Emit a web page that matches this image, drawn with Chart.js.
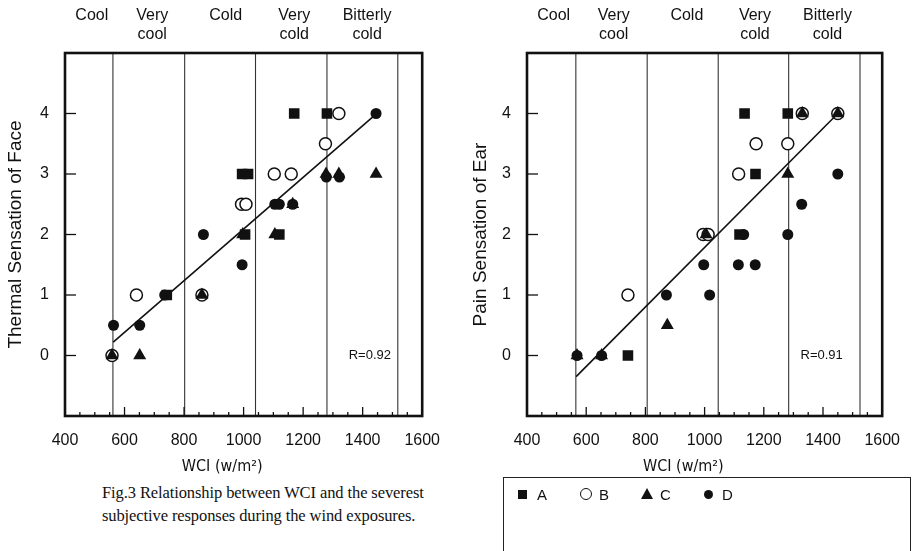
<!DOCTYPE html>
<html><head><meta charset="utf-8">
<script src="https://cdn.jsdelivr.net/npm/chart.js@4.4.1/dist/chart.umd.min.js"></script>
<style>
html,body{margin:0;padding:0;background:#fff;width:915px;height:551px;overflow:hidden;}
.wrap{position:absolute;top:0;width:455px;height:480px;}
#w1{left:0;}
#w2{left:460px;}
.cap{position:absolute;left:102px;top:481px;font-family:"Liberation Serif","Times New Roman",serif;font-size:16.5px;line-height:23px;color:#111;white-space:nowrap;letter-spacing:-0.1px;}
.leg{position:absolute;left:503px;top:477px;width:408px;height:100px;border:1.5px solid #222;box-sizing:border-box;}
.item{position:absolute;top:8px;font-family:"Liberation Sans",Arial,sans-serif;font-size:15px;color:#111;line-height:18px;}
.sym{position:absolute;}
</style>
</head><body>
<div class="wrap" id="w1"><canvas id="c1"></canvas></div>
<div class="wrap" id="w2"><canvas id="c2"></canvas></div>
<div class="cap">Fig.3 Relationship between WCI and the severest<br>subjective responses during the wind exposures.</div>
<div class="leg" id="leg"></div>
<script>
// ---- axis / tick data ----
const xTicks = [400, 600, 800, 1000, 1200, 1400, 1600];
const yTicks = [0, 1, 2, 3, 4];
const zoneNames = [["Cool"], ["Very", "cool"], ["Cold"], ["Very", "cold"], ["Bitterly", "cold"]];
const zoneLabelX = [490, 693, 940, 1170, 1415];
const faceZoneEdges = [561, 802, 1040, 1280, 1518];
const earZoneEdges = [565, 806, 1046, 1284, 1525];
const xTitle = "WCI (w/m\u00B2)";
const legendNames = ["A", "B", "C", "D"];

// ---- Thermal sensation of face ----
const faceA = [{x:1170,y:4},{x:1280,y:4},{x:995,y:3},{x:1015,y:3},{x:1005,y:2},{x:1120,y:2},{x:742,y:1}];
const faceB = [{x:1320,y:4},{x:1275,y:3.5},{x:1103,y:3},{x:1160,y:3},{x:993,y:2.5},{x:1008,y:2.5},{x:640,y:1},{x:860,y:1},{x:558,y:0}];
const faceC = [{x:1277,y:3},{x:1320,y:3},{x:1445,y:3},{x:1165,y:2.5},{x:997,y:2},{x:1105,y:2},{x:860,y:1},{x:558,y:0},{x:651,y:0}];
const faceD = [{x:1445,y:4},{x:1278,y:2.95},{x:1322,y:2.95},{x:1105,y:2.5},{x:1120,y:2.5},{x:1165,y:2.5},{x:865,y:2},{x:995,y:1.5},{x:735,y:1},{x:563,y:0.5},{x:651,y:0.5}];
const faceFit = [{x:562,y:0.22},{x:1440,y:3.97}];
const faceR = "R=0.92";

// ---- Pain sensation of ear ----
const earA = [{x:1135,y:4},{x:1281,y:4},{x:1172,y:3},{x:1118,y:2},{x:741,y:0}];
const earB = [{x:1330,y:4},{x:1450,y:4},{x:1174,y:3.5},{x:1281,y:3.5},{x:1115,y:3},{x:995,y:2},{x:1012,y:2},{x:741,y:1}];
const earC = [{x:1330,y:4},{x:1450,y:4},{x:1281,y:3},{x:1005,y:2},{x:874,y:0.5},{x:569,y:0},{x:652,y:0}];
const earD = [{x:1450,y:3},{x:1328,y:2.5},{x:1132,y:2},{x:1281,y:2},{x:997,y:1.5},{x:1114,y:1.5},{x:1171,y:1.5},{x:871,y:1},{x:1017,y:1},{x:569,y:0},{x:652,y:0}];
const earFit = [{x:566,y:-0.35},{x:1440,y:3.95}];
const earR = "R=0.91";

const FONT = '"Liberation Sans", Arial, sans-serif';
const markStyles = [
  {pointStyle:'rect', radius:7.5, bg:'#111', bc:'#111', bw:0, order:4},
  {pointStyle:'circle', radius:6, bg:'#fff', bc:'#111', bw:1.5, order:3},
  {pointStyle:'triangle', radius:7.5, bg:'#111', bc:'#111', bw:0, order:2},
  {pointStyle:'circle', radius:5.5, bg:'#111', bc:'#111', bw:0, order:1}
];

function frameTicks(rText, rX) {
  return {
    id: 'frameTicks',
    afterDraw(chart) {
      const ctx = chart.ctx, a = chart.chartArea;
      const xs = chart.scales.x, ys = chart.scales.y;
      ctx.save();
      ctx.strokeStyle = '#111';
      ctx.lineWidth = 1.3;
      for (let v = xTicks[0] + 50; v < xTicks[xTicks.length - 1]; v += 50) {
        const px = xs.getPixelForValue(v);
        const len = xTicks.includes(v) ? 9 : 4;
        ctx.beginPath(); ctx.moveTo(px, a.bottom); ctx.lineTo(px, a.bottom - len); ctx.stroke();
      }
      yTicks.forEach(v => {
        const py = ys.getPixelForValue(v);
        ctx.beginPath(); ctx.moveTo(a.left, py); ctx.lineTo(a.left + 11, py); ctx.stroke();
      });
      ctx.lineWidth = 2.6;
      ctx.strokeRect(a.left, a.top, a.right - a.left, a.bottom - a.top);
      ctx.fillStyle = '#111';
      ctx.font = '13px ' + FONT;
      ctx.textAlign = 'right'; ctx.textBaseline = 'middle';
      ctx.fillText(rText, xs.getPixelForValue(rX), ys.getPixelForValue(0));
      ctx.font = '16px "Liberation Sans Narrow", "DejaVu Sans Condensed", ' + FONT;
      ctx.textAlign = 'center'; ctx.textBaseline = 'middle';
      ctx.fillText(xTitle, a.left + (a.right - a.left) * 0.44, 467);
      ctx.restore();
    }
  };
}

function makeChart(id, sets, edges, fit, yTitle, yAxisW, yTitlePad, padRight, rText, rX) {
  const datasets = [];
  edges.forEach(e => datasets.push({
    data: [{x:e, y:-1}, {x:e, y:5}], showLine: true, borderColor: '#333', borderWidth: 1.1,
    pointRadius: 0, order: 10
  }));
  datasets.push({data: fit, showLine: true, borderColor: '#111', borderWidth: 1.6, pointRadius: 0, order: 0});
  sets.forEach((d, i) => {
    const m = markStyles[i];
    datasets.push({label: legendNames[i], data: d, pointStyle: m.pointStyle, pointRadius: m.radius,
      backgroundColor: m.bg, borderColor: m.bc, borderWidth: m.bw, order: m.order, showLine: false});
  });
  return new Chart(document.getElementById(id), {
    type: 'scatter',
    data: {datasets},
    options: {
      responsive: true, maintainAspectRatio: false, animation: false,
      layout: {padding: {left: 0, right: padRight, top: 0, bottom: 0}},
      plugins: {legend: {display: false}, tooltip: {enabled: false}},
      scales: {
        x: {
          type: 'linear', position: 'bottom', min: 400, max: 1600,
          afterBuildTicks: s => { s.ticks = xTicks.map(v => ({value: v})); },
          afterFit: s => { s.height = 64; },
          grid: {display: false, drawTicks: false}, border: {display: false},
          ticks: {padding: 15, color: '#111', font: {size: 16, family: FONT}, maxRotation: 0, autoSkip: false,
            callback: v => String(v)}
        },
        top: {
          type: 'linear', position: 'top', min: 400, max: 1600,
          afterBuildTicks: s => { s.ticks = zoneLabelX.map(v => ({value: v})); },
          afterFit: s => { s.height = 53; },
          grid: {display: false, drawTicks: false}, border: {display: false},
          ticks: {padding: 9, color: '#111', crossAlign: 'far', font: {size: 16, family: FONT, lineHeight: 1.18},
            maxRotation: 0, autoSkip: false, callback: (v, i) => zoneNames[i]}
        },
        y: {
          type: 'linear', position: 'left', min: -1, max: 5,
          afterBuildTicks: s => { s.ticks = yTicks.map(v => ({value: v})); },
          afterFit: s => { s.width = yAxisW; },
          grid: {display: false, drawTicks: false}, border: {display: false},
          ticks: {padding: 16, color: '#111', font: {size: 16, family: FONT}, callback: v => String(v)},
          title: {display: true, text: yTitle, color: '#111', font: {size: 19, family: FONT}, padding: {top: yTitlePad, bottom: 0}}
        }
      }
    },
    plugins: [frameTicks(rText, rX)]
  });
}

makeChart('c1', [faceA, faceB, faceC, faceD], faceZoneEdges, faceFit, 'Thermal Sensation of Face', 65, 4, 23, faceR, 1495);
makeChart('c2', [earA, earB, earC, earD], earZoneEdges, earFit, 'Pain Sensation of Ear', 67, 9, 27, earR, 1467);

// ---- legend (HTML) ----
const leg = document.getElementById('leg');
const symCss = [
  'left:14px;top:12px;width:9px;height:9px;background:#111;',
  'left:76px;top:10px;width:10px;height:10px;border:1.5px solid #111;border-radius:50%;',
  'left:137px;top:10px;width:0;height:0;border-left:6px solid transparent;border-right:6px solid transparent;border-bottom:11px solid #111;',
  'left:200px;top:12px;width:9px;height:9px;background:#111;border-radius:50%;'
];
const letterX = [33, 95, 156, 218];
legendNames.forEach((n, i) => {
  const s = document.createElement('div'); s.className = 'sym'; s.style.cssText = symCss[i]; leg.appendChild(s);
  const t = document.createElement('div'); t.className = 'item'; t.style.left = letterX[i] + 'px'; t.textContent = n; leg.appendChild(t);
});
</script>
</body></html>
